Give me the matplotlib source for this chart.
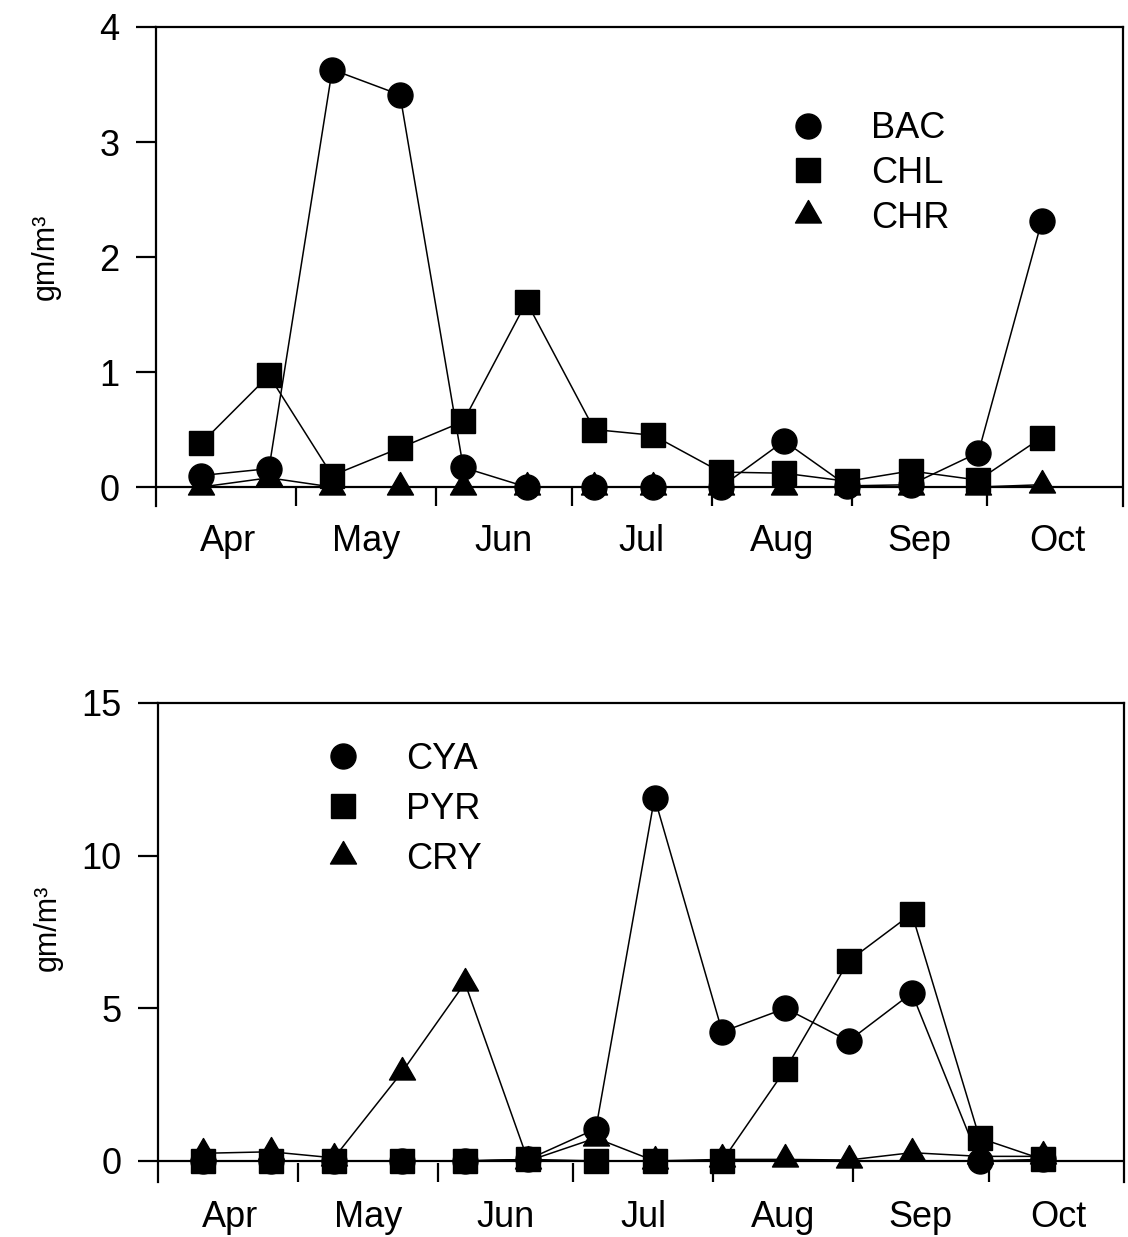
import numpy as np
import matplotlib
matplotlib.use("Agg")
import matplotlib.pyplot as plt
from matplotlib.path import Path

plt.rcParams["font.family"] = ["Liberation Sans", "DejaVu Sans"]

# Season axis: days counted from 1 April
month_names = ["Apr", "May", "Jun", "Jul", "Aug", "Sep", "Oct"]
month_lengths = [30, 31, 30, 31, 31, 30, 31]
sample_day = [9, 24, 38, 53, 67, 81, 96, 109, 124, 138, 152, 166, 181, 195]

# Upper panel biomass (gm/m3)
bac = [0.10, 0.16, 3.63, 3.41, 0.17, 0.00, 0.00, 0.00, 0.00, 0.40, 0.01, 0.02, 0.30, 2.31]
chl = [0.38, 0.97, 0.10, 0.34, 0.57, 1.61, 0.50, 0.45, 0.13, 0.12, 0.05, 0.14, 0.06, 0.43]
chr_ = [0.00, 0.08, 0.00, 0.00, 0.00, 0.00, 0.00, 0.00, 0.00, 0.00, 0.00, 0.00, 0.00, 0.02]

# Lower panel biomass (gm/m3)
cya = [0.00, 0.00, 0.00, 0.00, 0.00, 0.05, 1.05, 11.90, 4.23, 5.00, 3.93, 5.50, 0.00, 0.05]
pyr = [0.00, 0.00, 0.00, 0.00, 0.00, 0.05, 0.00, 0.00, 0.00, 3.00, 6.55, 8.10, 0.75, 0.05]
cry = [0.25, 0.30, 0.10, 2.90, 5.83, 0.00, 0.75, 0.00, 0.05, 0.05, 0.03, 0.27, 0.15, 0.15]

# Triangle marker centred on its centroid
tri = Path([(0, 2), (-np.sqrt(3), -1), (np.sqrt(3), -1), (0, 2)],
           [Path.MOVETO, Path.LINETO, Path.LINETO, Path.CLOSEPOLY])

FS = 26
LW_AX = 1.6
month_starts = np.cumsum([0] + month_lengths[:-1])
month_mids = [s + L / 2 for s, L in zip(month_starts, month_lengths)]

fig = plt.figure(figsize=(11.28, 12.37), dpi=100)
ax1 = fig.add_axes([156 / 1128, 1 - 506 / 1237, 967 / 1128, 479 / 1237])
ax2 = fig.add_axes([158 / 1128, 1 - 1182 / 1237, 966 / 1128, 479 / 1237])


def style_axes(ax, ytop, ystep, ybottom, label_y):
    ax.set_xlim(-1, 213)
    ax.set_ylim(ybottom, ytop)
    ax.spines["bottom"].set_visible(False)
    for s in ("left", "right", "top"):
        ax.spines[s].set_linewidth(LW_AX)
    ax.axhline(0, color="black", lw=LW_AX, zorder=1)
    ax.set_yticks(np.arange(0, ytop + ystep / 2, ystep))
    ax.tick_params(axis="y", direction="out", length=14.4, width=LW_AX,
                   labelsize=FS, pad=12)
    # month boundaries (the first one coincides with the left spine)
    ax.set_xticks(month_starts[1:])
    ax.set_xticklabels([])
    ax.tick_params(axis="x", which="major", direction="in", length=13.7,
                   width=LW_AX, bottom=True, top=False)
    # month names centred within each month
    ax.set_xticks(month_mids, minor=True)
    ax.set_xticklabels(month_names, minor=True)
    ax.tick_params(axis="x", which="minor", length=0, width=0,
                   labelsize=FS, pad=13)
    ax.set_ylabel("gm/m³", fontsize=22)
    ax.yaxis.set_label_coords(-0.099, label_y)


style_axes(ax1, 4, 1, -0.165, 0.52)
style_axes(ax2, 15, 5, -0.69, 0.53)

line_kw = dict(color="black", lw=1.1, markeredgecolor="black",
               markerfacecolor="black", clip_on=False)

ax1.plot(sample_day, chr_, marker=tri, ms=21.6, label="CHR", zorder=3, **line_kw)
ax1.plot(sample_day, chl, marker="s", ms=17, label="CHL", zorder=4, **line_kw)
ax1.plot(sample_day, bac, marker="o", ms=18, label="BAC", zorder=5, **line_kw)

ax2.plot(sample_day, cry, marker=tri, ms=21.6, label="CRY", zorder=3, **line_kw)
ax2.plot(sample_day, pyr, marker="s", ms=17, label="PYR", zorder=4, **line_kw)
ax2.plot(sample_day, cya, marker="o", ms=18, label="CYA", zorder=5, **line_kw)


def add_legend(ax, order, anchor, spacing):
    handles, labels = ax.get_legend_handles_labels()
    lookup = dict(zip(labels, handles))
    hs = [lookup[k] for k in order]
    leg = ax.legend(hs, order, loc="upper left", bbox_to_anchor=anchor,
                    frameon=False, fontsize=FS, handlelength=1.0,
                    handletextpad=1.25, labelspacing=spacing, borderpad=0,
                    borderaxespad=0)
    for lh in leg.get_lines():
        lh.set_linestyle("none")
    return leg


add_legend(ax1, ["BAC", "CHL", "CHR"], (0.6556, 0.824), 0.27)
add_legend(ax2, ["CYA", "PYR", "CRY"], (0.1729, 0.919), 0.42)

fig.savefig("out.png", dpi=100)
